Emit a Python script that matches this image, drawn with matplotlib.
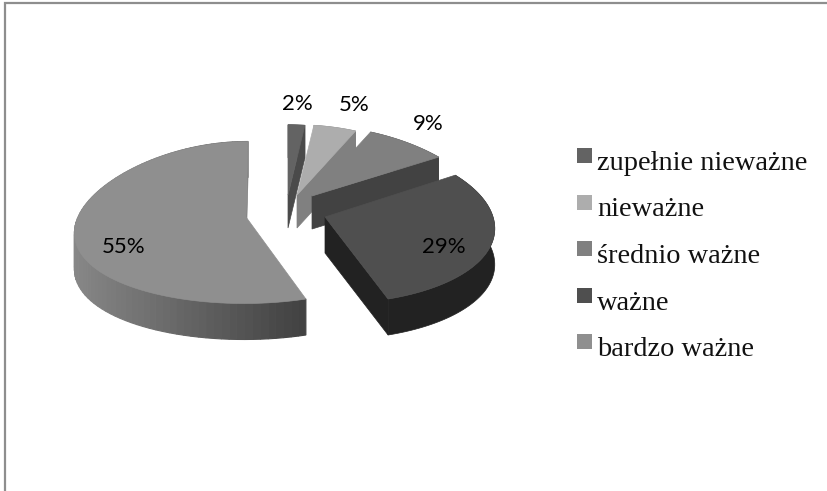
# -*- coding: utf-8 -*-
import numpy as np
import matplotlib
matplotlib.use("Agg")
import matplotlib.pyplot as plt
from matplotlib.patches import Rectangle

######################################################################################################
# Data
categories = ["zupełnie nieważne", "nieważne", "średnio ważne", "ważne", "bardzo ważne"]
values = [2, 5, 9, 29, 55]
labels = ["2%", "5%", "9%", "29%", "55%"]

# Slice styling and where each exploded slice sits (pixels)
top_colors = ["#636363", "#adadad", "#808080", "#4f4f4f", "#8f8f8f"]
cut_colors = ["#4a4a4a", "#808080", "#424242", "#222222", "#808080"]
apex_x = [288, 297, 312, 325, 246]
apex_y = [195, 195, 196, 217, 217]
pivot_x = [288, 297, 312, 270, 256]
persp = [0.2, 0.2, 0.2, 0.11, 0.2]
depth = [0.93, 0.93, 0.93, 1.0, 1.0]
wall = [33, 33, 33, 36, 36]
label_x = [297, 354, 428, 444, 124]
label_y = [104, 105, 124, 247, 247]

RX, RY, RY2 = 168.0, 81.0, 5.5

######################################################################################################
# Perspective projection of a clockwise angle on the pie
def rim(theta, i):
    c = np.cos(theta)
    s = np.sin(theta)
    x = apex_x[i] - pivot_x[i] + RX * s
    return pivot_x[i] + x * (1 - persp[i] * c), apex_y[i] + (-RY * c + RY2 * c * c) * depth[i]

fig = plt.figure(figsize=(8.28, 4.91), dpi=100)
ax = fig.add_axes([0, 0, 1, 1])
ax.set_xlim(0, 828)
ax.set_ylim(491, 0)
ax.axis("off")

# Frame of the chart area
ax.plot([5.5, 5.5, 828], [491, 3, 3], color="#8e8e8e", lw=1.6, solid_joinstyle="miter")

edges = np.cumsum([0] + values) / sum(values) * 2 * np.pi

for i in range(len(values)):
    t = np.linspace(edges[i], edges[i + 1], 90)
    x, y = rim(t, i)
    h = wall[i]
    ax0, ay0 = apex_x[i], apex_y[i]

    # Outer wall, in strips for the big slice so it gets its gradient
    if i == 4:
        for j in range(len(t) - 1):
            g = np.clip((x[j] - 75) / (303 - 75), 0, 1)
            col = str(float(0.53 + (0.26 - 0.53) * g))
            ax.fill([x[j], x[j + 1], x[j + 1], x[j]],
                    [y[j], y[j + 1], y[j + 1] + h, y[j] + h],
                    color=col, lw=0.8, zorder=i + 2)
    else:
        ax.fill(np.r_[x, x[::-1]], np.r_[y, y[::-1] + h],
                color=cut_colors[i], lw=0.5, zorder=i + 2)

    # Cut face at the end of the slice
    ax.fill([ax0, x[-1], x[-1], ax0], [ay0, y[-1], y[-1] + h, ay0 + h],
            color=cut_colors[i], lw=0.5, zorder=i + 2)

    # Top face
    ax.fill(np.r_[ax0, x], np.r_[ay0, y], color=top_colors[i], lw=0.5, zorder=i + 2.5)

    ax.text(label_x[i], label_y[i], labels[i], family="Lato", fontsize=16,
            color="black", ha="center", va="center", zorder=20)

######################################################################################################
# Legend
for i, name in enumerate(categories):
    yy = 148 + i * 46.5
    ax.add_patch(Rectangle((577, yy), 15, 15, facecolor=top_colors[i], edgecolor="none"))
    ax.text(597, yy + 22, name, family="Liberation Serif", fontsize=20.4,
            color="#111111", ha="left", va="baseline")

fig.savefig("out.png", dpi=100)
